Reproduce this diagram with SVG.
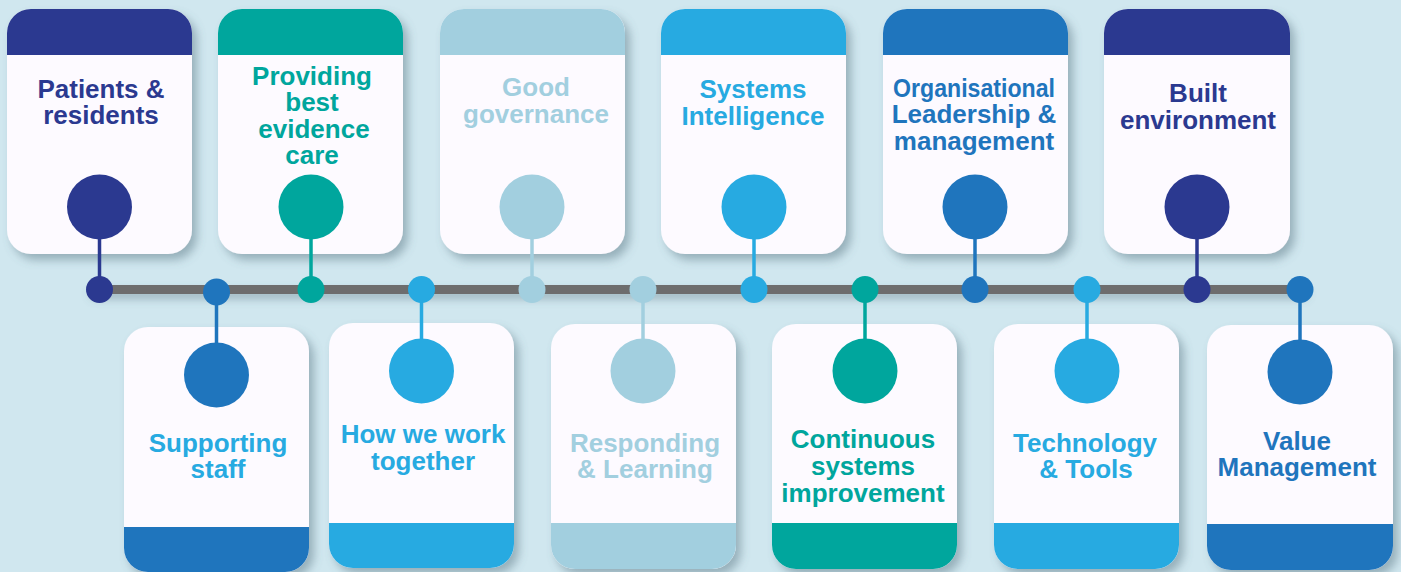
<svg xmlns="http://www.w3.org/2000/svg" width="1401" height="572" viewBox="0 0 1401 572">
<defs>
<filter id="sh" x="-20%" y="-20%" width="150%" height="150%">
<feDropShadow dx="5" dy="6" stdDeviation="5" flood-color="#4d6c78" flood-opacity="0.45"/>
</filter>
<filter id="shl" filterUnits="userSpaceOnUse" x="60" y="260" width="1290" height="60">
<feDropShadow dx="3" dy="5" stdDeviation="4" flood-color="#4d6c78" flood-opacity="0.4"/>
</filter>
</defs>
<style>
.card{fill:#fdfaff;filter:url(#sh)}
.t{font-family:"Liberation Sans",Arial,sans-serif;font-weight:bold;font-size:26px;text-anchor:middle}
.navy{fill:#2b3990}
.mid{fill:#1f75bd}
.sky{fill:#27aae1}
.teal{fill:#00a69d}
.light{fill:#a2cfdf}
.sNavy{stroke:#2b3990}
.sMid{stroke:#1f75bd}
.sSky{stroke:#27aae1}
.sTeal{stroke:#00a69d}
.sLight{stroke:#a2cfdf}
.stem{stroke-width:3.5;fill:none}
</style>
<rect x="0" y="0" width="1401" height="572" fill="#d0e7ef"/>

<!-- top cards -->
<g id="node-patients">
<rect class="card" x="7" y="9" width="185" height="245" rx="24"/>
<path class="navy" d="M7,55 V33 A24,24 0 0 1 31,9 H168 A24,24 0 0 1 192,33 V55 Z"/>
<text class="t navy" x="101" y="98">Patients &amp;</text>
<text class="t navy" x="101" y="124">residents</text>
</g>
<g id="node-providing">
<rect class="card" x="218" y="9" width="185" height="245" rx="24"/>
<path class="teal" d="M218,55 V33 A24,24 0 0 1 242,9 H379 A24,24 0 0 1 403,33 V55 Z"/>
<text class="t teal" x="312" y="85">Providing</text>
<text class="t teal" x="312" y="111">best</text>
<text class="t teal" x="314" y="138">evidence</text>
<text class="t teal" x="312" y="164">care</text>
</g>
<g id="node-governance">
<rect class="card" x="440" y="9" width="185" height="245" rx="24"/>
<path class="light" d="M440,55 V33 A24,24 0 0 1 464,9 H601 A24,24 0 0 1 625,33 V55 Z"/>
<text class="t light" x="536" y="96">Good</text>
<text class="t light" x="536" y="123">governance</text>
</g>
<g id="node-systems">
<rect class="card" x="661" y="9" width="185" height="245" rx="24"/>
<path class="sky" d="M661,55 V33 A24,24 0 0 1 685,9 H822 A24,24 0 0 1 846,33 V55 Z"/>
<text class="t sky" x="753" y="98">Systems</text>
<text class="t sky" x="753" y="125">Intelligence</text>
</g>
<g id="node-leadership">
<rect class="card" x="883" y="9" width="185" height="245" rx="24"/>
<path class="mid" d="M883,55 V33 A24,24 0 0 1 907,9 H1044 A24,24 0 0 1 1068,33 V55 Z"/>
<text class="t mid" x="974" y="97" textLength="162" lengthAdjust="spacingAndGlyphs">Organisational</text>
<text class="t mid" x="974" y="123">Leadership &amp;</text>
<text class="t mid" x="974" y="150">management</text>
</g>
<g id="node-built">
<rect class="card" x="1104" y="9" width="186" height="245" rx="24"/>
<path class="navy" d="M1104,55 V33 A24,24 0 0 1 1128,9 H1266 A24,24 0 0 1 1290,33 V55 Z"/>
<text class="t navy" x="1198" y="102">Built</text>
<text class="t navy" x="1198" y="129">environment</text>
</g>

<!-- bottom cards -->
<g id="node-staff">
<rect class="card" x="124" y="327" width="185" height="245" rx="24"/>
<path class="mid" d="M124,527 H309 V548 A24,24 0 0 1 285,572 H148 A24,24 0 0 1 124,548 Z"/>
<text class="t sky" x="218" y="452">Supporting</text>
<text class="t sky" x="218" y="478">staff</text>
</g>
<g id="node-together">
<rect class="card" x="329" y="323" width="185" height="245" rx="24"/>
<path class="sky" d="M329,523 H514 V544 A24,24 0 0 1 490,568 H353 A24,24 0 0 1 329,544 Z"/>
<text class="t sky" x="423" y="443">How we work</text>
<text class="t sky" x="423" y="470">together</text>
</g>
<g id="node-responding">
<rect class="card" x="551" y="324" width="185" height="245" rx="24"/>
<path class="light" d="M551,523 H736 V545 A24,24 0 0 1 712,569 H575 A24,24 0 0 1 551,545 Z"/>
<text class="t light" x="645" y="452">Responding</text>
<text class="t light" x="645" y="478">&amp; Learning</text>
</g>
<g id="node-continuous">
<rect class="card" x="772" y="324" width="185" height="245" rx="24"/>
<path class="teal" d="M772,523 H957 V545 A24,24 0 0 1 933,569 H796 A24,24 0 0 1 772,545 Z"/>
<text class="t teal" x="863" y="448">Continuous</text>
<text class="t teal" x="863" y="475">systems</text>
<text class="t teal" x="863" y="502">improvement</text>
</g>
<g id="node-technology">
<rect class="card" x="994" y="324" width="185" height="245" rx="24"/>
<path class="sky" d="M994,523 H1179 V545 A24,24 0 0 1 1155,569 H1018 A24,24 0 0 1 994,545 Z"/>
<text class="t sky" x="1085" y="452">Technology</text>
<text class="t sky" x="1086" y="478">&amp; Tools</text>
</g>
<g id="node-value">
<rect class="card" x="1207" y="325" width="186" height="245" rx="24"/>
<path class="mid" d="M1207,524 H1393 V546 A24,24 0 0 1 1369,570 H1231 A24,24 0 0 1 1207,546 Z"/>
<text class="t mid" x="1297" y="450">Value</text>
<text class="t mid" x="1297" y="476">Management</text>
</g>

<!-- connectors -->
<g id="connectors">
<rect x="87" y="285" width="1218" height="9" rx="4.5" fill="#6d6d6d" filter="url(#shl)"/>
<line class="stem sNavy" x1="99.5" y1="207" x2="99.5" y2="289"/>
<line class="stem sTeal" x1="311" y1="207" x2="311" y2="289"/>
<line class="stem sLight" x1="532" y1="207" x2="532" y2="289"/>
<line class="stem sSky" x1="754" y1="207" x2="754" y2="289"/>
<line class="stem sMid" x1="975" y1="207" x2="975" y2="289"/>
<line class="stem sNavy" x1="1197" y1="207" x2="1197" y2="289"/>
<line class="stem sMid" x1="216.5" y1="292" x2="216.5" y2="375"/>
<line class="stem sSky" x1="421.5" y1="289" x2="421.5" y2="371"/>
<line class="stem sLight" x1="643" y1="289" x2="643" y2="371"/>
<line class="stem sTeal" x1="865" y1="289" x2="865" y2="371"/>
<line class="stem sSky" x1="1087" y1="289" x2="1087" y2="371"/>
<line class="stem sMid" x1="1300" y1="289" x2="1300" y2="372"/>
<circle class="navy" cx="99.5" cy="289.5" r="13.5"/>
<circle class="mid" cx="216.5" cy="292" r="13.5"/>
<circle class="teal" cx="311" cy="289.5" r="13.5"/>
<circle class="sky" cx="421.5" cy="289.5" r="13.5"/>
<circle class="light" cx="532" cy="289.5" r="13.5"/>
<circle class="light" cx="643" cy="289.5" r="13.5"/>
<circle class="sky" cx="754" cy="289.5" r="13.5"/>
<circle class="teal" cx="865" cy="289.5" r="13.5"/>
<circle class="mid" cx="975" cy="289.5" r="13.5"/>
<circle class="sky" cx="1087" cy="289.5" r="13.5"/>
<circle class="navy" cx="1197" cy="289.5" r="13.5"/>
<circle class="mid" cx="1300" cy="289.5" r="13.5"/>
</g>

<!-- big circles -->
<g id="markers">
<circle class="navy" cx="99.5" cy="207" r="32.5"/>
<circle class="teal" cx="311" cy="207" r="32.5"/>
<circle class="light" cx="532" cy="207" r="32.5"/>
<circle class="sky" cx="754" cy="207" r="32.5"/>
<circle class="mid" cx="975" cy="207" r="32.5"/>
<circle class="navy" cx="1197" cy="207" r="32.5"/>
<circle class="mid" cx="216.5" cy="375" r="32.5"/>
<circle class="sky" cx="421.5" cy="371" r="32.5"/>
<circle class="light" cx="643" cy="371" r="32.5"/>
<circle class="teal" cx="865" cy="371" r="32.5"/>
<circle class="sky" cx="1087" cy="371" r="32.5"/>
<circle class="mid" cx="1300" cy="372" r="32.5"/>
</g>
</svg>
